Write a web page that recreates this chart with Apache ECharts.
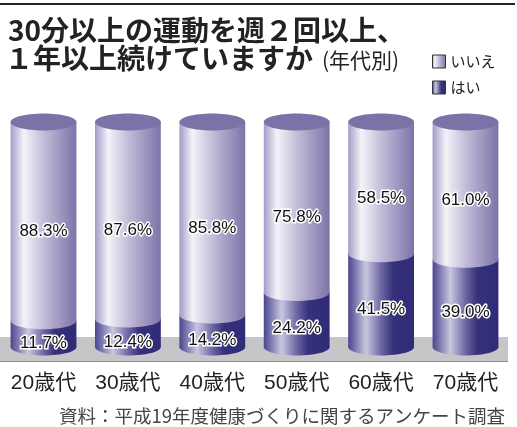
<!DOCTYPE html>
<html><head><meta charset="utf-8">
<script src="https://cdn.jsdelivr.net/npm/echarts@6/dist/echarts.min.js"></script>
<style>html,body{margin:0;padding:0;background:#fff}#c{width:517px;height:427px}</style>
</head><body><div id="c"></div>
<script>
const categories = ['20歳代','30歳代','40歳代','50歳代','60歳代','70歳代'];
const yesValues = [11.7, 12.4, 14.2, 24.2, 41.5, 39.0];
const noValues  = [88.3, 87.6, 85.8, 75.8, 58.5, 61.0];
const seriesNames = ['いいえ','はい'];

const FONT_NUM = '"Liberation Sans", "Noto Sans CJK JP", sans-serif';
const FONT_JP = '"Noto Sans CJK JP", sans-serif';

function lightGrad(){
  return new echarts.graphic.LinearGradient(0,0,1,0,[
    {offset:0,color:'#a39bc7'},{offset:0.2,color:'#f4f3f9'},
    {offset:0.5,color:'#c3bdd9'},{offset:1,color:'#7c73a8'}]);
}
function darkGrad(){
  return new echarts.graphic.LinearGradient(0,0,1,0,[
    {offset:0,color:'#4a4590'},{offset:0.27,color:'#c9c6e0'},
    {offset:0.5,color:'#6d67a3'},{offset:0.68,color:'#35317b'},{offset:1,color:'#2f2b77'}]);
}
const RY = 8.5, BAR_RATIO = 0.78, LABEL_DY = 10;

function labelText(x, y, v){
  return {type:'text', z2:20, style:{text:v.toFixed(1)+'%', x:x, y:y, align:'center', verticalAlign:'middle',
    fill:'#111', stroke:'#fff', lineWidth:3, font:'17px '+FONT_NUM}};
}

function renderYes(params, api){
  const i = api.value(0), v = api.value(1);
  const p0 = api.coord([i,0]), p1 = api.coord([i,v]);
  const w = api.size([1,0])[0]*BAR_RATIO, cx = p0[0], x = cx - w/2;
  return {type:'group', children:[
    {type:'ellipse', shape:{cx:cx, cy:p0[1], rx:w/2, ry:RY}, style:{fill:darkGrad()}},
    {type:'rect', shape:{x:x, y:p1[1], width:w, height:p0[1]-p1[1]}, style:{fill:darkGrad()}},
    labelText(cx, (p0[1]+p1[1])/2 + LABEL_DY - 1, v)
  ]};
}
function renderNo(params, api){
  const i = api.value(0), base = api.value(1), v = api.value(2);
  const p1 = api.coord([i,base]), p2 = api.coord([i,base+v]);
  const w = api.size([1,0])[0]*BAR_RATIO, cx = p1[0], x = cx - w/2;
  return {type:'group', children:[
    {type:'ellipse', shape:{cx:cx, cy:p1[1], rx:w/2, ry:RY}, style:{fill:lightGrad()}},
    {type:'rect', shape:{x:x, y:p2[1], width:w, height:p1[1]-p2[1]}, style:{fill:lightGrad()}},
    {type:'ellipse', shape:{cx:cx, cy:p2[1], rx:w/2, ry:RY}, style:{fill:'#7b72a7'}},
    labelText(cx, (p1[1]+p2[1])/2 + LABEL_DY, v)
  ]};
}

const chart = echarts.init(document.getElementById('c'), null, {renderer:'canvas'});
chart.setOption({
  animation:false,
  grid:{left:1.3, right:9.3, top:122, bottom:80},
  xAxis:{type:'category', data:categories, axisLine:{show:false}, axisTick:{show:false},
    axisLabel:{interval:0, margin:26, fontSize:21, color:'#222', fontFamily:FONT_NUM}},
  yAxis:{type:'value', min:0, max:100, show:false},
  legend:{data:seriesNames, orient:'vertical', left:427, top:49, itemWidth:13, itemHeight:13, itemGap:11,
    icon:'rect', textStyle:{fontSize:15, color:'#222', fontFamily:FONT_JP},
    itemStyle:{borderColor:'#333', borderWidth:1}},
  graphic:[
    {type:'line', z:0, shape:{x1:0,y1:4,x2:515,y2:4}, style:{stroke:'#222', lineWidth:2}},
    {type:'rect', z:0, shape:{x:0,y:337,width:508,height:24}, style:{fill:'#c6c6c8'}},
    {type:'line', z:0, shape:{x1:0,y1:361.5,x2:508,y2:361.5}, style:{stroke:'#8a8a8c', lineWidth:1}},
    {type:'text', z:5, style:{text:'30分以上の運動を週２回以上、', x:8, y:30, verticalAlign:'middle',
      font:'bold 28px '+FONT_JP, fill:'#222'}},
    {type:'text', z:5, style:{text:'１年以上続けていますか', x:5, y:58, verticalAlign:'middle',
      font:'bold 28px '+FONT_JP, fill:'#222'}},
    {type:'text', z:5, style:{text:'(年代別)', x:322, y:60, verticalAlign:'middle',
      font:'21px '+FONT_JP, fill:'#222'}},
    {type:'text', z:5, style:{text:'資料：平成19年度健康づくりに関するアンケート調査', x:505, y:416, align:'right', verticalAlign:'middle',
      font:'18.5px '+FONT_JP, fill:'#444'}}
  ],
  series:[
    {name:'はい', type:'custom', renderItem:renderYes, itemStyle:{color:darkGrad()},
     encode:{x:0,y:1}, data:categories.map((c,i)=>[i, yesValues[i]])},
    {name:'いいえ', type:'custom', renderItem:renderNo, itemStyle:{color:lightGrad()},
     encode:{x:0,y:[1,2]}, data:categories.map((c,i)=>[i, yesValues[i], noValues[i]])}
  ]
});
</script></body></html>
